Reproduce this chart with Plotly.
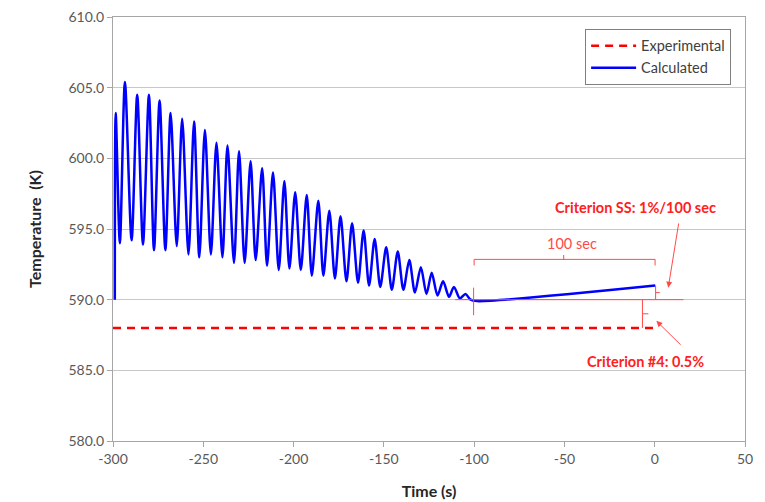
import plotly.graph_objects as go

# ---- data ----
start_t, start_v = -299.0, 590.0
peak_t = [-298.5, -293.4, -286.6, -280.1, -274.2, -268.1, -261.7, -255.1, -249.1, -242.7,
          -236.6, -230.2, -223.8, -217.4, -211.4, -205.1, -199.1, -192.7, -186.3, -180.2,
          -174.0, -167.6, -161.2, -155.1, -148.7, -142.3, -135.9, -129.5, -123.5, -117.2,
          -111.2, -104.8]
peak_v = [603.2, 605.4, 604.5, 604.5, 604.1, 603.2, 602.8, 602.6, 602.0, 601.1,
          600.9, 600.5, 599.8, 599.3, 599.0, 598.4, 597.6, 597.4, 597.0, 596.3,
          595.9, 595.4, 594.9, 594.3, 593.7, 593.4, 592.8, 592.3, 591.9, 591.3,
          590.9, 590.4]
trough_t = [-296.2, -289.7, -283.4, -277.3, -271.0, -264.7, -258.2, -252.2, -245.8, -239.4,
            -233.0, -227.1, -221.0, -214.7, -208.2, -202.3, -196.0, -189.9, -183.5, -177.1,
            -170.7, -164.3, -158.2, -152.0, -145.6, -139.2, -132.8, -126.4, -120.3, -113.9,
            -107.9, -102.0]
trough_v = [594.0, 594.2, 593.9, 593.5, 593.5, 593.8, 593.2, 593.0, 593.2, 593.0,
            592.6, 592.6, 592.8, 592.4, 592.1, 592.2, 592.1, 591.7, 591.7, 591.5,
            591.3, 591.2, 591.0, 590.9, 590.7, 590.7, 590.5, 590.4, 590.3, 590.2,
            590.1, 590.0]
tail_t = [-98.4, 0.3]
tail_v = [589.9, 591.0]

exp_t = [-300.0, 0.0]
exp_v = [588.0, 588.0]

x_ticks = [-300, -250, -200, -150, -100, -50, 0, 50]
x_ticktext = ["-300", "-250", "-200", "-150", "-100", "-50", "0", "50"]

# ---- build calculated series ----
calc_t = [start_t]
calc_v = [start_v]
for pt, pv, tt, tv in zip(peak_t, peak_v, trough_t, trough_v):
    calc_t += [pt, tt]
    calc_v += [pv, tv]
calc_t += tail_t
calc_v += tail_v

RED = "#ff2020"
LRED = "#ff4a4a"
FONT = "Lato"

fig = go.Figure()
fig.add_trace(go.Scatter(x=exp_t, y=exp_v, mode="lines", name="Experimental",
                         line=dict(color="#ff0000", width=2.5, dash="8px,6px")))
fig.add_trace(go.Scatter(x=calc_t, y=calc_v, mode="lines", name="Calculated",
                         line=dict(color="#0000ff", width=2.5, shape="spline", smoothing=0.8)))

line_style = dict(color=LRED, width=1)
shapes = [
    # 100 sec bracket
    dict(type="path", path="M -100,592.42 L -100,592.85 L 0.2,592.85 L 0.2,592.42",
         line=line_style, xref="x", yref="y"),
    dict(type="line", x0=-50.4, x1=-50.4, y0=592.85, y1=593.16, line=line_style, xref="x", yref="y"),
    # vertical marker at -100
    dict(type="line", x0=-100.3, x1=-100.3, y0=590.85, y1=588.9, line=line_style, xref="x", yref="y"),
    # horizontal reference at 590
    dict(type="line", x0=-110.5, x1=15.9, y0=590.0, y1=590.0, line=line_style, xref="x", yref="y"),
    # SS small bracket
    dict(type="line", x0=0.5, x1=0.5, y0=591.0, y1=590.0, line=line_style, xref="x", yref="y"),
    dict(type="line", x0=0.5, x1=2.8, y0=590.5, y1=590.5, line=line_style, xref="x", yref="y"),
    # #4 bracket
    dict(type="line", x0=-6.8, x1=-6.8, y0=590.0, y1=588.0, line=line_style, xref="x", yref="y"),
    dict(type="line", x0=-6.8, x1=-3.5, y0=589.0, y1=589.0, line=line_style, xref="x", yref="y"),
]

annotations = [
    dict(x=-10.6, y=596.5, xref="x", yref="y", text="<b>Criterion SS: 1%/100 sec</b>",
         showarrow=False, font=dict(family=FONT, size=14.5, color=RED)),
    dict(x=-4.9, y=585.6, xref="x", yref="y", text="<b>Criterion #4: 0.5%</b>",
         showarrow=False, font=dict(family=FONT, size=14.5, color=RED)),
    dict(x=-45.6, y=594.0, xref="x", yref="y", text="100 sec",
         showarrow=False, font=dict(family=FONT, size=14.5, color=LRED)),
    dict(x=7.5, y=590.85, ax=13.4, ay=595.5, xref="x", yref="y", axref="x", ayref="y",
         text="", showarrow=True, arrowhead=2, arrowsize=1.2, arrowwidth=1, arrowcolor=LRED),
    dict(x=0.9, y=588.5, ax=15.2, ay=586.7, xref="x", yref="y", axref="x", ayref="y",
         text="", showarrow=True, arrowhead=2, arrowsize=1.2, arrowwidth=1, arrowcolor=LRED),
]

fig.update_layout(
    width=765, height=502,
    margin=dict(l=113, r=20, t=17, b=61),
    plot_bgcolor="white", paper_bgcolor="white",
    font=dict(family=FONT, size=14, color="#595959"),
    shapes=shapes, annotations=annotations,
    legend=dict(x=0.747, y=0.972, xanchor="left", yanchor="top",
                bgcolor="white", bordercolor="#808080", borderwidth=1,
                font=dict(family=FONT, size=14.5, color="#404040"),
                itemwidth=45, tracegroupgap=8),
    xaxis=dict(range=[-300, 50], tickvals=x_ticks, ticktext=x_ticktext,
               showgrid=False, zeroline=False, automargin=False,
               showline=True, linecolor="#a6a6a6", mirror=True,
               ticks="outside", ticklen=5, tickcolor="#a6a6a6",
               title=dict(text="<b>Time (s)</b>", font=dict(family=FONT, size=16, color="#262626"),
                          standoff=20)),
    yaxis=dict(range=[580, 610], dtick=5, tickformat=".1f", showgrid=True, gridcolor="#c8c8c8",
               zeroline=False, showline=True, linecolor="#a6a6a6", mirror=True, automargin=False,
               ticks="outside", ticklen=5, tickcolor="#a6a6a6",
               title=dict(text="<b>Temperature\u00a0 (K)</b>", font=dict(family=FONT, size=16, color="#262626"),
                          standoff=22)),
)

fig.write_html("out.html")
